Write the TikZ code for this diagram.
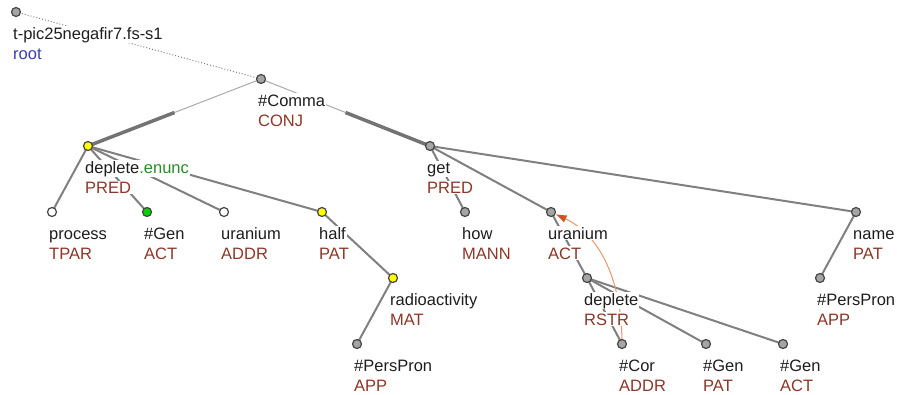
\documentclass[tikz,border=0pt]{standalone}
\usepackage{fontspec}
\setmainfont{Liberation Sans}
\usetikzlibrary{calc,arrows.meta}
\pgfdeclarelayer{bg}
\pgfdeclarelayer{canvas}
\pgfsetlayers{canvas,bg,main}
\definecolor{rolecol}{RGB}{140,55,40}
\definecolor{rootcol}{RGB}{60,60,175}
\definecolor{enunccol}{RGB}{40,140,40}
\definecolor{edgecol}{RGB}{128,128,128}
\definecolor{thincol}{RGB}{170,170,170}
\definecolor{thickcol}{RGB}{115,115,115}
\definecolor{nodeline}{RGB}{70,70,70}
\definecolor{nodegray}{RGB}{165,165,165}
\definecolor{nodeyellow}{RGB}{255,255,0}
\definecolor{nodegreen}{RGB}{0,210,0}
\definecolor{corefline}{RGB}{232,150,110}
\definecolor{corefhead}{RGB}{210,80,35}
\definecolor{txtcol}{RGB}{30,30,30}
\tikzset{
  tnode/.style={circle,draw=nodeline,line width=1.2pt,minimum size=9pt,inner sep=0pt,fill=nodegray},
  tlab/.style={anchor=base west,fill=white,inner sep=1pt,text=txtcol,font=\fontsize{16.5}{20}\selectfont},
  tedge/.style={draw=edgecol,line width=2pt},
  thinedge/.style={draw=thincol,line width=1pt},
  thickedge/.style={draw=thickcol,line width=3.5pt},
  rootedge/.style={draw=edgecol,line width=1pt,dotted},
  corefarrow/.style={draw=corefline,line width=1pt,-{Latex[length=11pt,width=8pt,color=corefhead]}}
}
\newcommand\tlabel[4]{%
  \node[tlab] (#1a) at ($(#1)+(-4,27)$) {#2};
  \node[tlab,text=#4] (#1b) at ($(#1)+(-4,47)$) {#3};}
\begin{document}
\begin{tikzpicture}[x=1pt,y=-1pt]
\begin{pgfonlayer}{canvas}
\useasboundingbox[fill=white] (0,0) rectangle (897,394);
\end{pgfonlayer}
% tree nodes
\node[tnode] (root) at (16,12) {};
\node[tnode] (comma) at (261,79) {};
\node[tnode,fill=nodeyellow] (depl) at (88,146) {};
\node[tnode] (get) at (430,146) {};
\node[tnode,fill=white] (proc) at (52,212) {};
\node[tnode,fill=nodegreen] (gen1) at (147,212) {};
\node[tnode,fill=white] (ura1) at (224,212) {};
\node[tnode,fill=nodeyellow] (half) at (322,212) {};
\node[tnode] (how) at (465,212) {};
\node[tnode] (ura2) at (551,212) {};
\node[tnode] (name) at (856,212) {};
\node[tnode,fill=nodeyellow] (radio) at (393,278) {};
\node[tnode] (depl2) at (587,278) {};
\node[tnode] (pp2) at (820,278) {};
\node[tnode] (pp1) at (357,344) {};
\node[tnode] (cor) at (622,344) {};
\node[tnode] (gen2) at (706,344) {};
\node[tnode] (gen3) at (783,344) {};
% labels
\tlabel{root}{t-pic25negafir7.fs-s1}{root}{rootcol}
\tlabel{comma}{\#Comma}{CONJ}{rolecol}
\tlabel{depl}{deplete\textcolor{enunccol}{.enunc}}{PRED}{rolecol}
\tlabel{get}{get}{PRED}{rolecol}
\tlabel{proc}{process}{TPAR}{rolecol}
\tlabel{gen1}{\#Gen}{ACT}{rolecol}
\tlabel{ura1}{uranium}{ADDR}{rolecol}
\tlabel{half}{half}{PAT}{rolecol}
\tlabel{how}{how}{MANN}{rolecol}
\tlabel{ura2}{uranium}{ACT}{rolecol}
\tlabel{name}{name}{PAT}{rolecol}
\tlabel{radio}{radioactivity}{MAT}{rolecol}
\tlabel{depl2}{deplete}{RSTR}{rolecol}
\tlabel{pp2}{\#PersPron}{APP}{rolecol}
\tlabel{pp1}{\#PersPron}{APP}{rolecol}
\tlabel{cor}{\#Cor}{ADDR}{rolecol}
\tlabel{gen2}{\#Gen}{PAT}{rolecol}
\tlabel{gen3}{\#Gen}{ACT}{rolecol}
% edges
\begin{pgfonlayer}{bg}
\draw[rootedge] (root.center) -- (comma.center);
\coordinate (m1) at ($(comma.center)!0.5!(depl.center)$);
\coordinate (m2) at ($(comma.center)!0.5!(get.center)$);
\draw[thinedge] (comma.center) -- (m1);
\draw[thickedge] (m1) -- (depl.center);
\draw[thinedge] (comma.center) -- (m2);
\draw[thickedge] (m2) -- (get.center);
\draw[tedge] (depl.center) -- (proc.center);
\draw[tedge] (depl.center) -- (gen1.center);
\draw[tedge] (depl.center) -- (ura1.center);
\draw[tedge] (depl.center) -- (half.center);
\draw[tedge] (half.center) -- (radio.center);
\draw[tedge] (radio.center) -- (pp1.center);
\draw[tedge] (get.center) -- (how.center);
\draw[tedge] (get.center) -- (ura2.center);
\draw[tedge] (get.center) -- (name.center);
\draw[tedge] (ura2.center) -- (depl2.center);
\draw[tedge] (depl2.center) -- (cor.center);
\draw[tedge] (depl2.center) -- (gen2.center);
\draw[tedge] (depl2.center) -- (gen3.center);
\draw[tedge] (name.center) -- (pp2.center);
\draw[corefarrow] (cor) .. controls (621,280) and (600,235) .. (ura2);
\end{pgfonlayer}
\end{tikzpicture}
\end{document}
